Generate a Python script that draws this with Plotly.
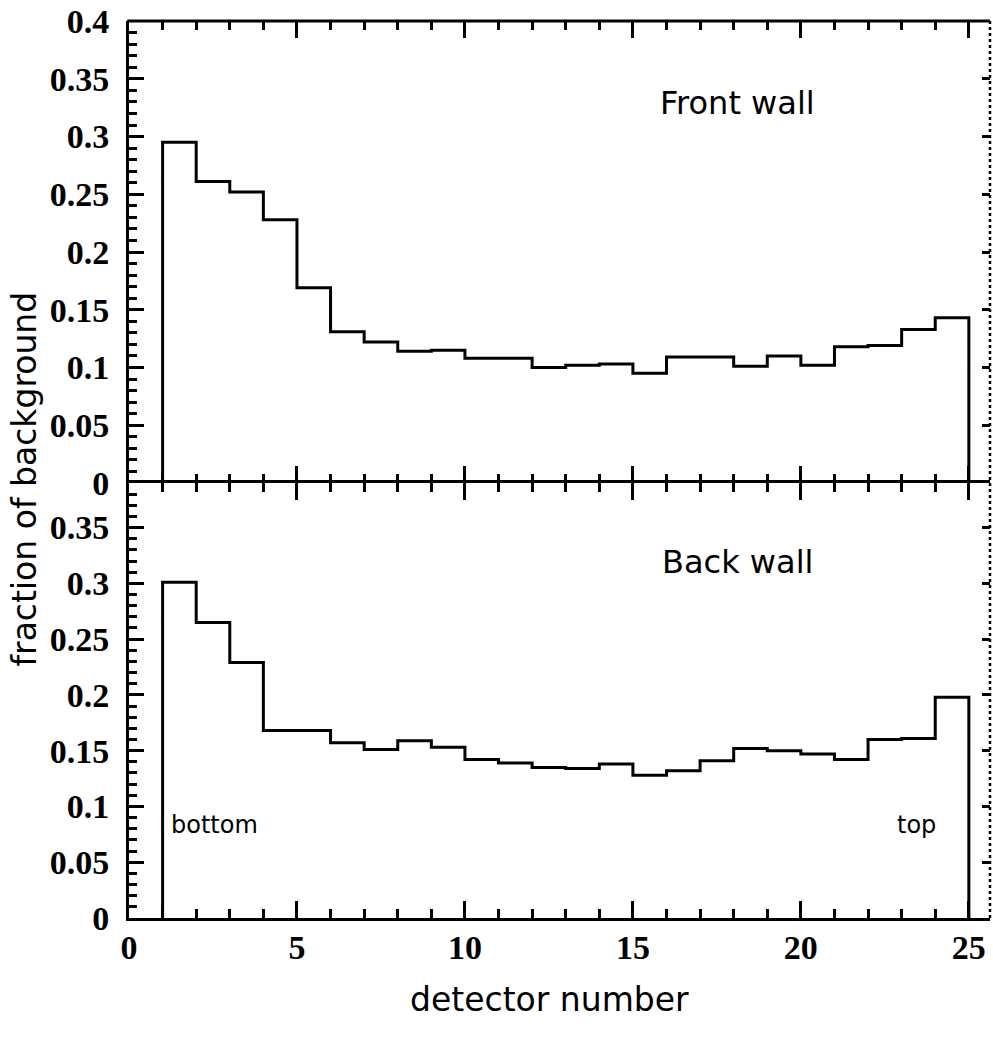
import plotly.graph_objects as go

# Detector numbers (bin lower edges; each detector spans n..n+1)
detectors = [1, 2, 3, 4, 5, 6, 7, 8, 9, 10, 11, 12,
             13, 14, 15, 16, 17, 18, 19, 20, 21, 22, 23, 24]

# Fraction of background per detector
front_wall = [0.295, 0.261, 0.252, 0.228, 0.169, 0.131, 0.122, 0.114,
              0.115, 0.108, 0.108, 0.100, 0.102, 0.103, 0.095, 0.109,
              0.109, 0.101, 0.110, 0.102, 0.118, 0.119, 0.133, 0.143]
back_wall = [0.301, 0.265, 0.229, 0.168, 0.168, 0.157, 0.151, 0.159,
             0.153, 0.142, 0.139, 0.135, 0.134, 0.138, 0.128, 0.132,
             0.141, 0.152, 0.150, 0.147, 0.142, 0.160, 0.161, 0.198]


def step_outline(edges, values):
    """Closed histogram outline for use with line_shape='hv'."""
    last = edges[-1] + 1
    xs = [edges[0]] + list(edges) + [last, last]
    ys = [0] + list(values) + [values[-1], 0]
    return xs, ys


fx, fy = step_outline(detectors, front_wall)
bx, by = step_outline(detectors, back_wall)

BLACK = "#000000"
LW = 3
tick_font = dict(family="Liberation Serif", size=34, color=BLACK, weight=700)
label_font = dict(family="DejaVu Sans", size=32, color=BLACK)
note_font = dict(family="DejaVu Sans", size=24, color=BLACK)

# panel split: bottom panel 0..0.39, top panel 0..0.4
SPLIT = 0.485

fig = go.Figure()
fig.add_trace(go.Scatter(x=fx, y=fy, mode="lines", line_shape="hv",
                         line=dict(color=BLACK, width=LW),
                         xaxis="x2", yaxis="y2", showlegend=False,
                         hoverinfo="skip"))
fig.add_trace(go.Scatter(x=bx, y=by, mode="lines", line_shape="hv",
                         line=dict(color=BLACK, width=LW),
                         xaxis="x", yaxis="y", showlegend=False,
                         hoverinfo="skip"))
# transparent copies that carry the right-hand tick axes
fig.add_trace(go.Scatter(x=fx, y=fy, mode="lines",
                         line=dict(color="rgba(0,0,0,0)", width=0),
                         xaxis="x2", yaxis="y4", showlegend=False,
                         hoverinfo="skip"))
fig.add_trace(go.Scatter(x=bx, y=by, mode="lines",
                         line=dict(color="rgba(0,0,0,0)", width=0),
                         xaxis="x", yaxis="y3", showlegend=False,
                         hoverinfo="skip"))

X_RANGE = [0, 25.63]
xcommon = dict(range=X_RANGE, showgrid=False, zeroline=False,
               linecolor=BLACK, linewidth=LW,
               ticks="inside", tick0=0, dtick=5, ticklen=17,
               tickwidth=LW, tickcolor=BLACK, mirror="ticks",
               minor=dict(dtick=1, ticklen=9, tickwidth=LW,
                          tickcolor=BLACK, ticks="inside"))
ycommon = dict(showgrid=False, zeroline=False, showline=True,
               linecolor=BLACK, linewidth=LW, ticks="inside",
               tick0=0, dtick=0.05, ticklen=15, tickwidth=LW,
               tickcolor=BLACK, tickfont=tick_font,
               ticklabelstandoff=10,
               minor=dict(dtick=0.01, ticklen=8, tickwidth=LW,
                          tickcolor=BLACK, ticks="inside"))
yright = dict(showgrid=False, zeroline=False, showline=False,
              side="right", ticks="inside", tick0=0, dtick=0.05,
              ticklen=8, tickwidth=LW, tickcolor=BLACK,
              showticklabels=False)

fig.update_layout(
    width=993, height=1037,
    margin=dict(l=129, r=3, t=21, b=119),
    paper_bgcolor="white", plot_bgcolor="white",
    # bottom panel axis also draws the shared panel boundary (mirrored line)
    xaxis=dict(**xcommon, anchor="y", domain=[0, 1], showline=True,
               showticklabels=True, tickfont=tick_font,
               ticklabelstandoff=-3),
    # top panel: ticks only, so the boundary line is not doubled
    xaxis2=dict(**xcommon, anchor="y2", matches="x", showline=False,
                showticklabels=False),
    yaxis=dict(**ycommon, anchor="x", domain=[0, SPLIT], range=[0, 0.39]),
    yaxis2=dict(**ycommon, anchor="x2", domain=[SPLIT, 1], range=[0, 0.4001]),
    yaxis3=dict(**yright, overlaying="y", anchor="x", range=[0, 0.39]),
    yaxis4=dict(**yright, overlaying="y2", anchor="x2", range=[0, 0.4001]),
    shapes=[
        # dotted right-hand frame
        dict(type="line", xref="paper", yref="paper",
             x0=1, x1=1, y0=0, y1=1,
             line=dict(color=BLACK, width=2.5, dash="dot")),
        # solid top frame
        dict(type="line", xref="paper", yref="paper",
             x0=-0.002, x1=1, y0=1, y1=1,
             line=dict(color=BLACK, width=LW)),
    ],
    annotations=[
        dict(text="Front wall", x=18.1, y=0.329, xref="x2", yref="y2",
             showarrow=False, font=label_font),
        dict(text="Back wall", x=18.1, y=0.319, xref="x", yref="y",
             showarrow=False, font=label_font),
        dict(text="bottom", x=2.55, y=0.083, xref="x", yref="y",
             showarrow=False, font=note_font),
        dict(text="top", x=23.45, y=0.083, xref="x", yref="y",
             showarrow=False, font=note_font),
        dict(text="fraction of background", textangle=-90,
             x=-0.1225, y=0.4894, xref="paper", yref="paper",
             xanchor="center", yanchor="middle", showarrow=False,
             font=dict(family="DejaVu Sans", size=33, color=BLACK)),
        dict(text="detector number", x=0.488, y=-0.0914,
             xref="paper", yref="paper", xanchor="center",
             yanchor="middle", showarrow=False,
             font=dict(family="DejaVu Sans", size=33, color=BLACK)),
    ],
)

fig.write_html("out.html")
